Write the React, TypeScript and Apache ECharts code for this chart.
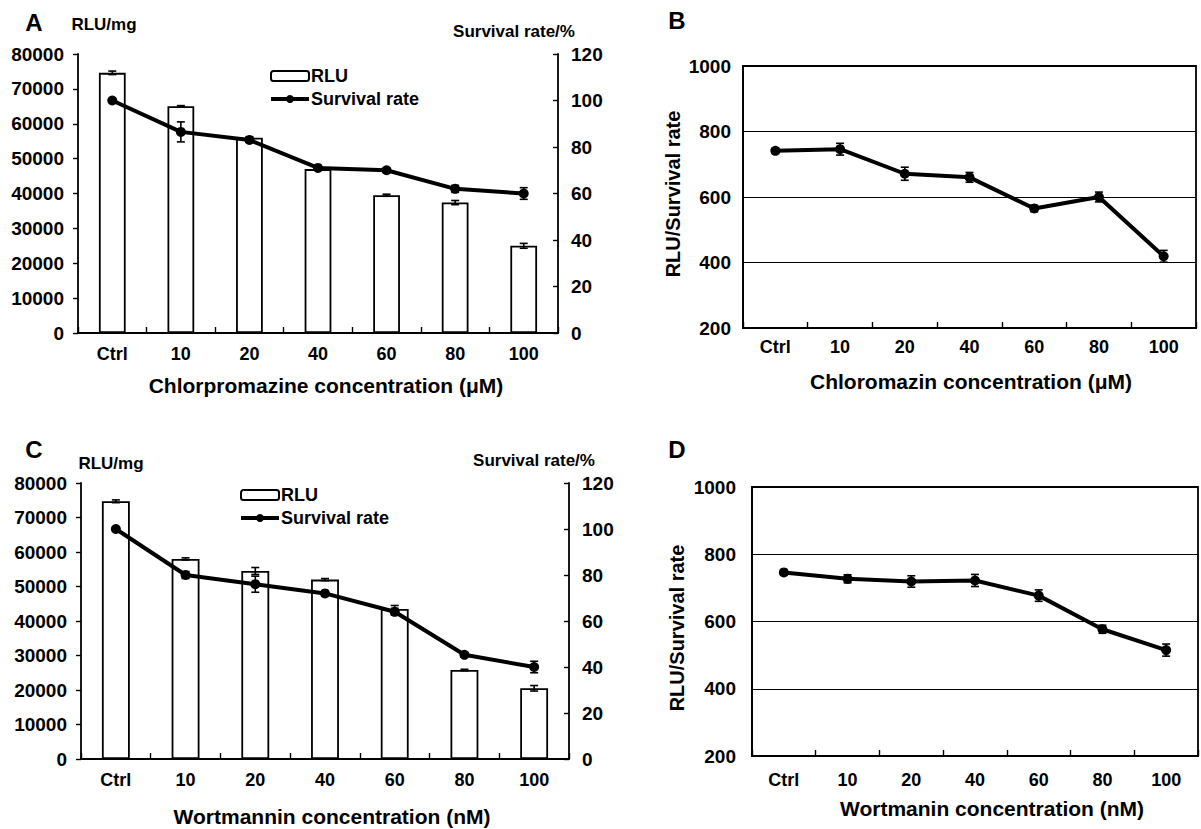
import React, { useEffect, useRef } from "react";
import * as echarts from "echarts";

const categories = ["Ctrl", "10", "20", "40", "60", "80", "100"];

// Panel A: Chlorpromazine
const rluA = [74600, 65000, 56000, 47000, 39500, 37400, 25000];
const rluErrA = [500, 200, 300, 200, 300, 600, 700];
const survA = [100, 86.5, 83, 71, 70, 62, 60];
const survErrA = [0.5, 4.3, 1, 1, 1, 1.5, 2.5];

// Panel B: RLU / survival rate (Chlorpromazine)
const ratioB = [741, 746, 671, 660, 565, 600, 419];
const ratioErrB = [8, 18, 20, 15, 10, 15, 18];

// Panel C: Wortmannin
const rluC = [74700, 58000, 54500, 52000, 43500, 25800, 20500];
const rluErrC = [400, 300, 1000, 300, 1000, 200, 800];
const survC = [100, 80, 76, 72, 64, 45.3, 40];
const survErrC = [0.5, 1.5, 3.5, 1, 1.5, 1, 2.5];

// Panel D: RLU / survival rate (Wortmannin)
const ratioD = [746, 727, 719, 722, 677, 577, 515];
const ratioErrD = [8, 12, 17, 18, 17, 12, 18];

const FONT = '"Liberation Sans", Arial, Helvetica, sans-serif';

const errRows = (vals: number[], errs: number[]) =>
  vals.map((v, i) => [i, v - errs[i], v + errs[i]]);

const renderErr = (params: any, api: any) => {
  const xi = api.value(0);
  const lo = api.value(1);
  const hi = api.value(2);
  const p1 = api.coord([xi, hi]);
  const p2 = api.coord([xi, lo]);
  const w = 4;
  const st = { stroke: "#000", lineWidth: 1.6 };
  return {
    type: "group",
    children: [
      { type: "line", shape: { x1: p1[0], y1: p1[1], x2: p2[0], y2: p2[1] }, style: st },
      { type: "line", shape: { x1: p1[0] - w, y1: p1[1], x2: p1[0] + w, y2: p1[1] }, style: st },
      { type: "line", shape: { x1: p2[0] - w, y1: p2[1], x2: p2[0] + w, y2: p2[1] }, style: st },
    ],
  };
};

const errSeries = (rows: number[][], xi: number, yi: number) => ({
  type: "custom",
  xAxisIndex: xi,
  yAxisIndex: yi,
  renderItem: renderErr,
  encode: { x: 0, y: [1, 2] },
  data: rows,
  z: 10,
  silent: true,
});

const catAxis = (gridIndex: number, margin: number) => ({
  type: "category",
  gridIndex,
  data: categories,
  boundaryGap: true,
  axisLine: { show: true, lineStyle: { color: "#000", width: 1.8 } },
  axisTick: { show: true, inside: true, length: 6, interval: 0, alignWithLabel: false, lineStyle: { color: "#000", width: 1.4 } },
  axisLabel: { color: "#000", fontFamily: FONT, fontWeight: "bold", fontSize: 18, margin, interval: 0 },
  splitLine: { show: false },
});

const plain = (v: number) => String(v);

const yLabel = (margin: number) => ({
  color: "#000",
  fontFamily: FONT,
  fontWeight: "bold",
  fontSize: 19,
  margin,
  formatter: plain,
});

const valAxis = (gridIndex: number, min: number, max: number, interval: number, extra: any) => ({
  type: "value",
  gridIndex,
  min,
  max,
  interval,
  axisLine: { show: true, lineStyle: { color: "#000", width: 1.8 } },
  axisTick: { show: true, length: 5, lineStyle: { color: "#000", width: 1.4 } },
  axisLabel: yLabel(13),
  splitLine: { show: false },
  ...extra,
});

const txt = (text: string, x: number, y: number, size: number, extra: any = {}) => ({
  type: "text",
  x,
  y,
  ...extra,
  style: {
    text,
    fill: "#000",
    font: `bold ${size}px ${FONT}`,
    textAlign: "center",
    textVerticalAlign: "middle",
  },
});

const legendAt = (left: number, top: number) => ({
  orient: "vertical",
  left,
  top,
  itemWidth: 38,
  itemHeight: 10,
  itemGap: 5,
  data: ["RLU", "Survival rate"],
  lineStyle: { width: 4, color: "#000" },
  textStyle: { color: "#000", fontFamily: FONT, fontWeight: "bold", fontSize: 18, padding: [0, 0, 0, -3] },
  selectedMode: false,
});

export default function App() {
  const ref = useRef<HTMLDivElement>(null);
  useEffect(() => {
    document.body.style.margin = "0";
    if (!ref.current) return;
    const chart = echarts.init(ref.current, undefined, { renderer: "svg" });
    const barStyle = { color: "#fff", borderColor: "#000", borderWidth: 1.8 };
    const lineStyle = { color: "#000", width: 4 };
    const option: any = {
      animation: false,
      backgroundColor: "#fff",
      textStyle: { fontFamily: FONT },
      grid: [
        { left: 78, top: 54, width: 480, height: 279 },
        { left: 743, top: 66, width: 453, height: 262, show: true, borderColor: "#000", borderWidth: 1.8, backgroundColor: "#fff" },
        { left: 81, top: 483, width: 488, height: 276 },
        { left: 752, top: 487, width: 446, height: 269, show: true, borderColor: "#000", borderWidth: 1.8, backgroundColor: "#fff" },
      ],
      legend: [legendAt(264, 62), legendAt(234, 481)],
      xAxis: [catAxis(0, 12), catAxis(1, 10), catAxis(2, 12), catAxis(3, 15)],
      yAxis: [
        valAxis(0, 0, 80000, 10000, { axisLabel: yLabel(14) }),
        valAxis(0, 0, 120, 20, { position: "right", axisTick: { show: true, inside: true, length: 5, lineStyle: { color: "#000", width: 1.4 } } }),
        valAxis(1, 200, 1000, 200, {
          axisTick: { show: false },
          axisLabel: yLabel(12),
          splitLine: { show: true, lineStyle: { color: "#000", width: 1 } },
        }),
        valAxis(2, 0, 80000, 10000, { axisLabel: yLabel(14) }),
        valAxis(2, 0, 120, 20, { position: "right", axisTick: { show: true, inside: true, length: 5, lineStyle: { color: "#000", width: 1.4 } } }),
        valAxis(3, 200, 1000, 200, {
          axisTick: { show: false },
          axisLabel: yLabel(16),
          splitLine: { show: true, lineStyle: { color: "#000", width: 1 } },
        }),
      ],
      series: [
        // Panel A
        { name: "RLU", type: "bar", xAxisIndex: 0, yAxisIndex: 0, data: rluA, barWidth: "39%", itemStyle: barStyle },
        errSeries(errRows(rluA, rluErrA), 0, 0),
        {
          name: "Survival rate", type: "line", xAxisIndex: 0, yAxisIndex: 1, data: survA,
          symbol: "circle", symbolSize: 10, lineStyle, itemStyle: { color: "#000" }, z: 5,
        },
        errSeries(errRows(survA, survErrA), 0, 1),
        // Panel B
        {
          name: "ratioB", type: "line", xAxisIndex: 1, yAxisIndex: 2, data: ratioB,
          symbol: "circle", symbolSize: 10, lineStyle, itemStyle: { color: "#000" }, z: 5,
        },
        errSeries(errRows(ratioB, ratioErrB), 1, 2),
        // Panel C
        { name: "RLU", type: "bar", xAxisIndex: 2, yAxisIndex: 3, data: rluC, barWidth: "40%", itemStyle: barStyle },
        errSeries(errRows(rluC, rluErrC), 2, 3),
        {
          name: "Survival rate", type: "line", xAxisIndex: 2, yAxisIndex: 4, data: survC,
          symbol: "circle", symbolSize: 10, lineStyle, itemStyle: { color: "#000" }, z: 5,
        },
        errSeries(errRows(survC, survErrC), 2, 4),
        // Panel D
        {
          name: "ratioD", type: "line", xAxisIndex: 3, yAxisIndex: 5, data: ratioD,
          symbol: "circle", symbolSize: 10, lineStyle, itemStyle: { color: "#000" }, z: 5,
        },
        errSeries(errRows(ratioD, ratioErrD), 3, 5),
      ],
      graphic: [
        txt("A", 34, 22, 24),
        txt("RLU/mg", 104, 24, 17),
        txt("Survival rate/%", 514, 31, 17),
        txt("Chlorpromazine concentration (μM)", 326, 385, 21),
        txt("B", 677, 20, 24),
        txt("RLU/Survival rate", 673, 194, 20, { rotation: Math.PI / 2 }),
        txt("Chloromazin concentration (μM)", 971, 381, 21),
        txt("C", 34, 449, 24),
        txt("RLU/mg", 111, 463, 17),
        txt("Survival rate/%", 534, 460, 17),
        txt("Wortmannin concentration (nM)", 332, 816, 21),
        txt("D", 677, 449, 24),
        txt("RLU/Survival rate", 677, 628, 20, { rotation: Math.PI / 2 }),
        txt("Wortmanin concentration (nM)", 992, 808, 21),
      ],
    };
    chart.setOption(option);
    return () => chart.dispose();
  }, []);
  return (
    <div
      ref={ref}
      style={{ position: "absolute", left: 0, top: 0, width: 1201, height: 829, background: "#fff" }}
    />
  );
}
